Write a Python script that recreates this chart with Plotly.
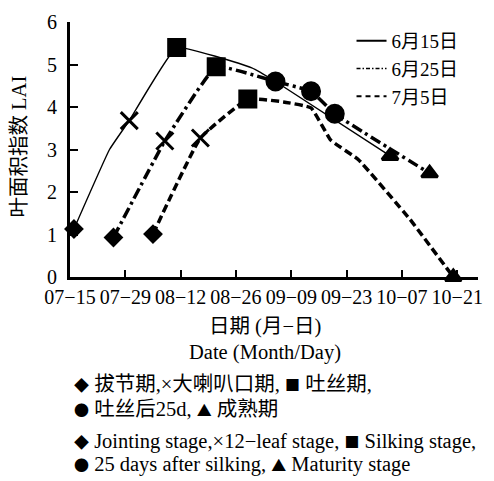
import plotly.graph_objects as go

YEAR = "2000"

# Sowing dates (legend labels)
sowing = ["6月15日", "6月25日", "7月5日"]

# LAI curves (month-day, LAI) for each sowing date
curve_dates = [
    ["07-16", "07-25", "07-30", "08-11", "08-30", "09-05", "10-04"],
    ["07-26", "08-08", "08-21", "09-05", "09-14", "09-20", "10-14"],
    ["08-05", "08-17", "08-29", "09-07", "09-14", "09-19", "09-26", "10-09", "10-20"],
]
curve_lai = [
    [1.13, 3.0, 3.68, 5.40, 4.92, 4.60, 2.85],
    [0.93, 3.20, 4.95, 4.60, 4.37, 3.84, 2.44],
    [1.01, 3.27, 4.19, 4.12, 3.98, 3.22, 2.76, 1.36, 0.0],
]

# Growth stages: jointing, 12-leaf, silking, 25 d after silking, maturity
stage_dates = [
    ["07-16", "07-30", "08-11", "09-05", "10-04"],
    ["07-26", "08-08", "08-21", "09-14", "10-14"],
    ["08-05", "08-17", "08-29", "09-20", "10-20"],
]
stage_lai = [
    [1.13, 3.68, 5.40, 4.60, 2.85],
    [0.93, 3.20, 4.95, 4.37, 2.44],
    [1.01, 3.27, 4.19, 3.84, 0.0],
]

# Axis ticks
x_ticks = ["07-15", "07-29", "08-12", "08-26", "09-09", "09-23", "10-07", "10-21"]
x_ticktext = [t.replace("-", "\u2212") for t in x_ticks]
y_ticks = [0, 1, 2, 3, 4, 5, 6]

FONT = "Times New Roman, Liberation Serif, DejaVu Serif, Noto Sans CJK SC, serif"
SYM = '<span style="font-family:Noto Sans CJK SC;font-size:15px">{}</span>'


def full(md_list):
    return [f"{YEAR}-{md}" for md in md_list]


line_styles = [
    dict(width=1.4, dash="solid"),
    dict(width=3.5, dash="11px,4px,3px,4px"),
    dict(width=3.5, dash="8px,4px"),
]
legend_styles = [
    dict(width=2.0, dash="solid"),
    dict(width=1.5, dash="4px,2px,1.5px,2px"),
    dict(width=2.0, dash="5px,4px"),
]
stage_symbols = ["diamond", "x-thin", "square", "circle", "triangle-up"]
stage_sizes = [12, 17, 16, 17, 14]

fig = go.Figure()

for i, name in enumerate(sowing):
    fig.add_trace(go.Scatter(
        x=full(curve_dates[i]), y=curve_lai[i], mode="lines",
        line=dict(color="black", shape="spline", smoothing=0.3, **line_styles[i]),
        showlegend=False, hoverinfo="skip",
    ))

for i, name in enumerate(sowing):
    fig.add_trace(go.Scatter(
        x=full(stage_dates[i]), y=stage_lai[i], mode="markers",
        marker=dict(symbol=stage_symbols, size=stage_sizes, color="black", opacity=1,
                    line=dict(color="black", width=3)),
        cliponaxis=False, showlegend=False,
    ))

# legend entries
for i, name in enumerate(sowing):
    fig.add_trace(go.Scatter(
        x=[None], y=[None], mode="lines", name=name,
        line=dict(color="black", **legend_styles[i]),
    ))

x_start = f"{YEAR}-07-15"
x_end = f"{YEAR}-10-26 06:00"

fig.update_layout(
    width=494, height=481,
    margin=dict(l=70, r=11, t=16, b=204),
    paper_bgcolor="white", plot_bgcolor="white",
    font=dict(family=FONT, color="black", size=20),
    showlegend=True,
    legend=dict(x=0.69, y=1.0, xanchor="left", yanchor="top",
                bgcolor="rgba(0,0,0,0)", font=dict(size=19, family=FONT),
                itemwidth=30, tracegroupgap=0),
    xaxis=dict(
        type="date", range=[x_start, x_end],
        tickmode="array", tickvals=full(x_ticks), ticktext=x_ticktext,
        tickangle=0,
        ticks="inside", ticklen=7, tickwidth=2, tickcolor="black",
        showline=True, linewidth=3, linecolor="black",
        showgrid=False, zeroline=False,
        tickfont=dict(size=20, family=FONT),
        layer="below traces",
    ),
    yaxis=dict(
        range=[0, 6], tickmode="array", tickvals=y_ticks,
        ticks="inside", ticklen=8, tickwidth=2, tickcolor="black",
        showline=True, linewidth=3, linecolor="black",
        showgrid=False, zeroline=False,
        tickfont=dict(size=20, family=FONT),
        ticklabelstandoff=6,
        layer="below traces",
    ),
)

ann = dict(xref="paper", yref="paper", showarrow=False, font=dict(family=FONT, size=20.5))
fig.add_annotation(text="叶面积指数 LAI", x=-0.126, y=0.51, textangle=-90,
                   xanchor="center", yanchor="middle", **ann)
fig.add_annotation(text="日期 (月\u2212日)", x=0.477, y=-0.195,
                   xanchor="center", yanchor="middle", **ann)
fig.add_annotation(text="Date (Month/Day)", x=0.477, y=-0.295,
                   xanchor="center", yanchor="middle", **ann)

captions = [
    f"{SYM.format('◆')} 拔节期,×大喇叭口期, {SYM.format('■')} 吐丝期,",
    f"{SYM.format('●')} 吐丝后25d, {SYM.format('▲')} 成熟期",
    f"{SYM.format('◆')} Jointing stage,×12\u2212leaf stage, {SYM.format('■')} Silking stage,",
    f"{SYM.format('●')} 25 days after silking, {SYM.format('▲')} Maturity stage",
]
caption_y = [-0.42, -0.517, -0.644, -0.736]
for txt, yy in zip(captions, caption_y):
    fig.add_annotation(text=txt, x=0.005, y=yy, xanchor="left", yanchor="middle", **ann)

fig.write_html("out.html")
